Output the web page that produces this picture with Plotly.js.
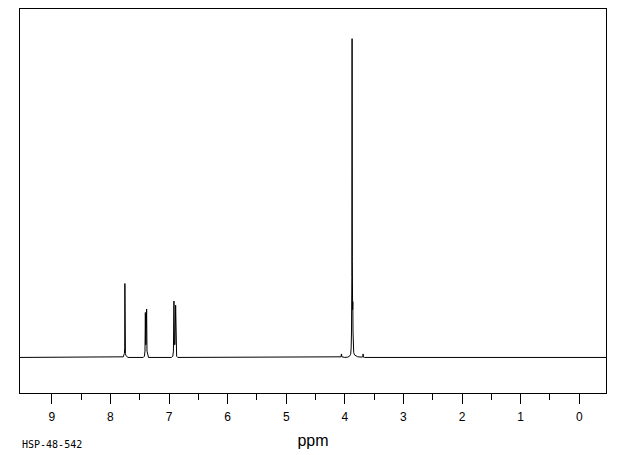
<!DOCTYPE html>
<html>
<head>
<meta charset="utf-8">
<script src="https://cdn.plot.ly/plotly-3.0.1.min.js"></script>
<style>html,body{margin:0;padding:0;background:#fff;}#chart{width:620px;height:455px;}</style>
</head>
<body>
<div id="chart"></div>
<script>
// Spectrum trace: chemical shift (ppm) and relative intensity
const ppm = [
  9.543, 7.80, 7.78, 7.77, 7.762, 7.756, 7.753, 7.750, 7.744, 7.736, 7.72, 7.70,
  7.44, 7.42, 7.41, 7.404, 7.398, 7.393, 7.382, 7.376, 7.365, 7.35,
  6.96, 6.935, 6.925, 6.916, 6.908, 6.898, 6.887, 6.88, 6.87, 6.85,
  4.09, 4.065, 4.057, 4.05, 4.00,
  3.95, 3.92, 3.90, 3.892, 3.886, 3.88, 3.876, 3.872, 3.867, 3.864, 3.860, 3.855, 3.848, 3.835, 3.81, 3.78,
  3.70, 3.695, 3.688, 3.682, 3.66,
  -0.457
];
const intensity = [
  0, 0, 0.2, 0.8, 1.2, 3, 23.2, 3, 1.2, 0.6, 0.2, 0,
  0, 0.4, 2, 14.1, 4, 4, 15.2, 2, 0.4, 0,
  0, 0.4, 2, 17.7, 4, 4, 16.4, 2, 0.4, 0,
  0, 0.2, 1.1, 0.2, 0,
  0.1, 0.4, 1, 3, 8, 25, 100, 30, 15, 17.5, 8, 3, 1.5, 0.8, 0.4, 0.2,
  0.1, 0.2, 1.1, 0.1, 0,
  0
];
const tickValues = [9, 8, 7, 6, 5, 4, 3, 2, 1, 0];
const tickLabels = ["9", "8", "7", "6", "5", "4", "3", "2", "1", "0"];
const minorTickValues = [8.5, 7.5, 6.5, 5.5, 4.5, 3.5, 2.5, 1.5, 0.5];
const xTitle = "ppm";
const sampleId = "HSP-48-542";

const trace = {
  x: ppm, y: intensity, type: "scatter", mode: "lines",
  line: {color: "#000", width: 1}, hoverinfo: "skip"
};

const layout = {
  width: 620, height: 455,
  margin: {l: 20, r: 14, t: 9, b: 62},
  paper_bgcolor: "#fff", plot_bgcolor: "#fff",
  showlegend: false,
  xaxis: {
    range: [9.543, -0.457],
    tickmode: "array", tickvals: tickValues, ticktext: tickLabels,
    ticks: "outside", ticklen: 10, tickwidth: 1, tickcolor: "#000",
    ticklabelstandoff: 3,
    minor: {ticks: "outside", ticklen: 6, tickwidth: 1, tickcolor: "#000", tickmode: "array", tickvals: minorTickValues, showgrid: false},
    showline: true, linecolor: "#000", linewidth: 1, mirror: true,
    showgrid: false, zeroline: false,
    tickfont: {family: "Liberation Sans, Arial, sans-serif", size: 12, color: "#000"},
    title: {text: xTitle, font: {family: "Liberation Sans, Arial, sans-serif", size: 16, color: "#000"}, standoff: 11}
  },
  yaxis: {
    range: [-11.15, 109.3],
    showticklabels: false, ticks: "",
    showline: true, linecolor: "#000", linewidth: 1, mirror: true,
    showgrid: false, zeroline: false
  },
  annotations: [{
    text: sampleId, xref: "paper", yref: "paper",
    x: 0, xanchor: "left", y: -0.135, yanchor: "middle",
    showarrow: false,
    font: {family: "DejaVu Sans Mono, monospace", size: 10, color: "#000"}
  }]
};

Plotly.newPlot("chart", [trace], layout, {staticPlot: true, displayModeBar: false});
</script>
</body>
</html>
